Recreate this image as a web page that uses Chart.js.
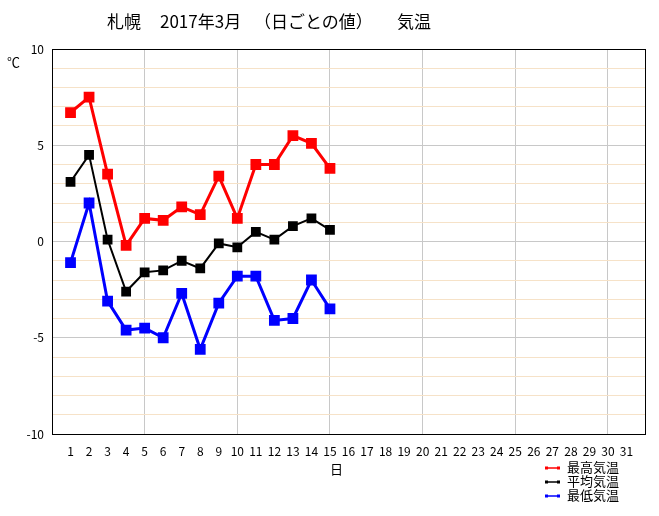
<!DOCTYPE html>
<html lang="ja">
<head>
<meta charset="UTF-8">
<title>札幌 2017年3月 気温</title>
<script src="https://cdn.jsdelivr.net/npm/chart.js"></script>
<style>
    body {
        margin: 0;
        background: #fff;
        font-family: "Noto Sans CJK JP", sans-serif;
    }
    .wrap {
        position: relative;
        width: 659px;
        height: 516px;
    }
    .title span {
        position: absolute;
        top: 8px;
        font-size: 17px;
        white-space: pre;
    }
    .unit {
        position: absolute;
        left: 7px;
        top: 52px;
        font-size: 13px;
    }
    .xname {
        position: absolute;
        left: 330px;
        top: 459px;
        font-size: 13px;
    }
    .legend {
        position: absolute;
        left: 545px;
        top: 460px;
        font-size: 13px;
        line-height: 14px;
    }
    .legend div {
        white-space: nowrap;
    }
    .legend svg {
        vertical-align: middle;
        margin-right: 7px;
    }
</style>
</head>
<body>
<div class="wrap">
    <canvas id="tempChart"></canvas>
    <div class="title">
        <span style="left:107px">札幌</span>
        <span style="left:160px">2017年3月</span>
        <span style="left:254px">（日ごとの値）</span>
        <span style="left:397px">気温</span>
    </div>
    <div class="unit">℃</div>
    <div class="xname">日</div>
    <div class="legend" id="legend"></div>
</div>

<script>
    // daily values, March 2017 (days 1-15)
    const days = [1, 2, 3, 4, 5, 6, 7, 8, 9, 10, 11, 12, 13, 14, 15];
    const maxTemp = [6.7, 7.5, 3.5, -0.2, 1.2, 1.1, 1.8, 1.4, 3.4, 1.2, 4.0, 4.0, 5.5, 5.1, 3.8];
    const avgTemp = [3.1, 4.5, 0.1, -2.6, -1.6, -1.5, -1.0, -1.4, -0.1, -0.3, 0.5, 0.1, 0.8, 1.2, 0.6];
    const minTemp = [-1.1, 2.0, -3.1, -4.6, -4.5, -5.0, -2.7, -5.6, -3.2, -1.8, -1.8, -4.1, -4.0, -2.0, -3.5];
    const seriesNames = ['最高気温', '平均気温', '最低気温'];
    const seriesColors = ['#ff0000', '#000000', '#0000ff'];

    function toPoints(values) {
        return values.map((v, i) => ({ x: days[i], y: v }));
    }

    const allSeries = [maxTemp, avgTemp, minTemp];
    const datasets = allSeries.map((vals, i) => ({
        label: seriesNames[i],
        data: toPoints(vals),
        borderColor: seriesColors[i],
        backgroundColor: seriesColors[i],
        borderWidth: i === 1 ? 2 : 3,
        pointStyle: 'rect',
        pointRadius: 5.5,
        pointHoverRadius: 5.5,
        tension: 0
    }));

    new Chart(document.getElementById('tempChart'), {
        type: 'line',
        data: { datasets: datasets },
        options: {
            responsive: true,
            maintainAspectRatio: false,
            animation: false,
            devicePixelRatio: 1,
            layout: { padding: { left: 0, top: 49, right: 14, bottom: 52 } },
            plugins: {
                legend: { display: false },
                tooltip: { enabled: false }
            },
            scales: {
                x: {
                    type: 'linear',
                    min: 0,
                    max: 32,
                    afterFit: function (scale) { scale.height = 30; },
                    border: { color: '#000', width: 1 },
                    grid: {
                        drawTicks: false,
                        lineWidth: 1,
                        color: function (ctx) {
                            const v = ctx.tick.value;
                            if (v === 0 || v === 32) return '#000';
                            if (v % 5 === 0) return '#c8c8c8';
                            return 'rgba(0,0,0,0)';
                        }
                    },
                    ticks: {
                        stepSize: 1,
                        autoSkip: false,
                        maxRotation: 0,
                        padding: 10,
                        color: '#000',
                        font: { family: 'Noto Sans CJK JP', size: 12 },
                        callback: function (v) { return (v >= 1 && v <= 31) ? v : ''; }
                    }
                },
                y: {
                    min: -10,
                    max: 10,
                    afterFit: function (scale) { scale.width = 52; },
                    border: { color: '#000', width: 1 },
                    grid: {
                        drawTicks: false,
                        lineWidth: 1,
                        color: function (ctx) {
                            const v = ctx.tick.value;
                            if (v === 10 || v === -10) return '#000';
                            if (v % 5 === 0) return '#c8c8c8';
                            return '#f6e2c8';
                        }
                    },
                    ticks: {
                        stepSize: 1,
                        autoSkip: false,
                        padding: 8,
                        color: '#000',
                        font: { family: 'Noto Sans CJK JP', size: 12 },
                        callback: function (v) { return v % 5 === 0 ? v : ''; }
                    }
                }
            }
        }
    });

    // legend at bottom right: small line with end dots, then the name
    const legend = document.getElementById('legend');
    seriesNames.forEach((name, i) => {
        const c = seriesColors[i];
        const row = document.createElement('div');
        row.innerHTML = '<svg width="15" height="6">' +
            '<line x1="1" y1="3" x2="14" y2="3" stroke="' + c + '" stroke-width="1.5"/>' +
            '<rect x="0" y="1.5" width="3" height="3" fill="' + c + '"/>' +
            '<rect x="12" y="1.5" width="3" height="3" fill="' + c + '"/>' +
            '</svg>' + name;
        legend.appendChild(row);
    });
</script>
</body>
</html>
